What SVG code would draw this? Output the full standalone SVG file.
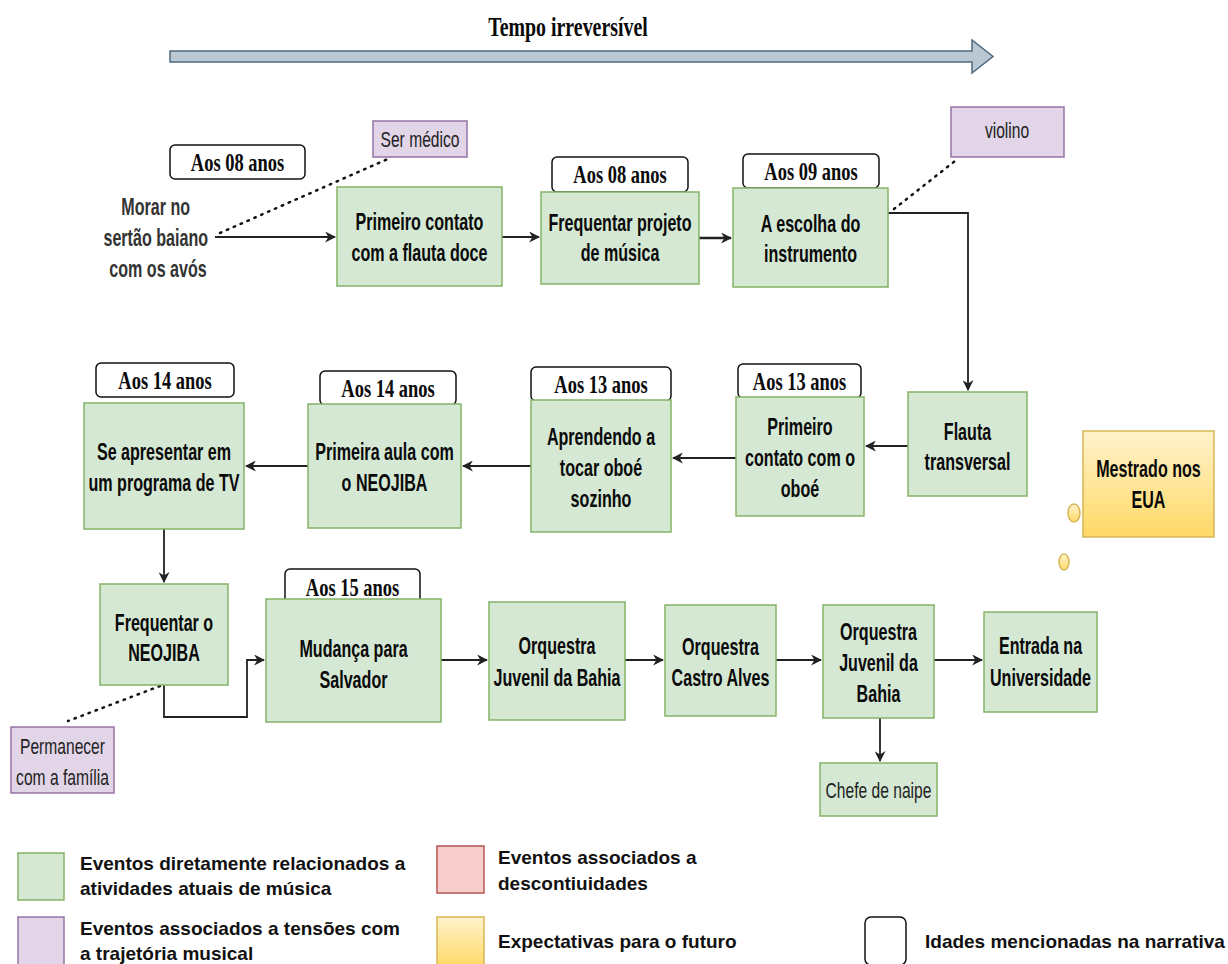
<svg xmlns="http://www.w3.org/2000/svg" width="1228" height="964" viewBox="0 0 1228 964">
  <style>
    .ev { fill: #d5e8d4; stroke: #82b366; stroke-width: 1.5; }
    .tn { fill: #e1d5e7; stroke: #9673a6; stroke-width: 1.5; }
    .ds { fill: #f8cecc; stroke: #b85450; stroke-width: 1.5; }
    .fu { fill: url(#futureGrad); stroke: #d6b656; stroke-width: 1.5; }
    .age { fill: #ffffff; stroke: #111111; stroke-width: 1.5; }
    .gt { font-family: "Liberation Sans", Arial, sans-serif; font-weight: bold; font-size: 23px; fill: #0a0a0a; text-anchor: middle; }
    .pt { font-family: "Liberation Sans", Arial, sans-serif; font-size: 22px; fill: #222222; text-anchor: middle; }
    .at { font-family: "Liberation Serif", "Times New Roman", serif; font-weight: bold; font-size: 26px; fill: #0a0a0a; text-anchor: middle; }
    .lt { font-family: "Liberation Sans", Arial, sans-serif; font-weight: bold; font-size: 19px; fill: #111111; }
    .edge { fill: none; stroke: #222222; stroke-width: 1.8; }
    .dots { fill: none; stroke: #111111; stroke-width: 2.5; stroke-dasharray: 1.5 6; stroke-linecap: round; }
  </style>
  <defs>
    <linearGradient id="futureGrad" x1="0" y1="0" x2="0" y2="1">
      <stop offset="0" stop-color="#fff2cc"/>
      <stop offset="1" stop-color="#ffd966"/>
    </linearGradient>
    <marker id="arrow" viewBox="0 0 10 10" refX="9" refY="5" markerWidth="11" markerHeight="11" markerUnits="userSpaceOnUse" orient="auto">
      <path d="M0,0 L10,5 L0,10 L3,5 z" fill="#222222"/>
    </marker>
  </defs>

  <rect width="1228" height="964" fill="#ffffff"/>

  <!-- time axis -->
  <g id="timeline">
    <polygon points="170,51 972,51 972,40 993,56.5 972,73 972,62 170,62" fill="#bac8d3" stroke="#4f6a80" stroke-width="1.5"/>
    <text class="at" transform="translate(568,0) scale(0.71,1)" x="0" y="36" style="font-size:28px">Tempo irreversível</text>
  </g>

  <!-- connectors -->
  <g id="connectors">
    <path class="edge" d="M215,237 H335" marker-end="url(#arrow)"/>
    <path class="dots" d="M220,233 L390,158"/>
    <path class="edge" d="M502,237 H539" marker-end="url(#arrow)"/>
    <path class="edge" d="M699,238 H731" stroke="#555555" style="stroke-width:2.5" marker-end="url(#arrow)"/>
    <path class="edge" d="M888,213 H968 V390" marker-end="url(#arrow)"/>
    <path class="dots" d="M894,209 L955,161"/>
    <path class="edge" d="M908,446 H866" marker-end="url(#arrow)"/>
    <path class="edge" d="M736,458 H673" marker-end="url(#arrow)"/>
    <path class="edge" d="M531,466 H463" marker-end="url(#arrow)"/>
    <path class="edge" d="M308,466 H246" marker-end="url(#arrow)"/>
    <path class="edge" d="M164,529 V582" marker-end="url(#arrow)"/>
    <path class="edge" d="M164,685 V717 H247 V660 H264" marker-end="url(#arrow)"/>
    <path class="dots" d="M160,686 L68,721"/>
    <path class="edge" d="M441,660 H487" marker-end="url(#arrow)"/>
    <path class="edge" d="M625,660 H663" marker-end="url(#arrow)"/>
    <path class="edge" d="M776,660 H821" marker-end="url(#arrow)"/>
    <path class="edge" d="M934,660 H982" marker-end="url(#arrow)"/>
    <path class="edge" d="M880,718 V761" marker-end="url(#arrow)"/>
  </g>

  <!-- starting situation -->
  <g id="morar">
    <text class="gt" transform="translate(158,0) scale(0.7,1)" style="fill:#333333">
      <tspan x="0" y="215">Morar no</tspan>
      <tspan x="0" y="246">sertão baiano</tspan>
      <tspan x="0" y="277">com os avós</tspan>
    </text>
  </g>

  <!-- age tags -->
  <g id="age1"><rect class="age" x="170" y="145" width="135" height="34" rx="5"/><text class="at" transform="translate(237.5,0) scale(0.71,1)" x="0" y="171">Aos 08 anos</text></g>
  <g id="age2"><rect class="age" x="552" y="157" width="136" height="35" rx="5"/><text class="at" transform="translate(620,0) scale(0.71,1)" x="0" y="183">Aos 08 anos</text></g>
  <g id="age3"><rect class="age" x="743" y="154" width="136" height="34" rx="5"/><text class="at" transform="translate(811,0) scale(0.71,1)" x="0" y="180">Aos 09 anos</text></g>
  <g id="age4"><rect class="age" x="738" y="364" width="123" height="34" rx="5"/><text class="at" transform="translate(799.5,0) scale(0.71,1)" x="0" y="390">Aos 13 anos</text></g>
  <g id="age5"><rect class="age" x="531" y="367" width="140" height="34" rx="5"/><text class="at" transform="translate(601,0) scale(0.71,1)" x="0" y="393">Aos 13 anos</text></g>
  <g id="age6"><rect class="age" x="320" y="371" width="136" height="34" rx="5"/><text class="at" transform="translate(388,0) scale(0.71,1)" x="0" y="397">Aos 14 anos</text></g>
  <g id="age7"><rect class="age" x="96" y="363" width="138" height="34" rx="5"/><text class="at" transform="translate(165,0) scale(0.71,1)" x="0" y="389">Aos 14 anos</text></g>
  <g id="age8"><rect class="age" x="285" y="569" width="135" height="36" rx="5"/><text class="at" transform="translate(352.5,0) scale(0.71,1)" x="0" y="596">Aos 15 anos</text></g>

  <!-- events -->
  <g id="flauta-doce"><rect class="ev" x="337" y="187" width="165" height="99"/>
    <text class="gt" transform="translate(419.5,0) scale(0.7,1)"><tspan x="0" y="230">Primeiro contato</tspan><tspan x="0" y="261">com a flauta doce</tspan></text></g>
  <g id="projeto-musica"><rect class="ev" x="541" y="192" width="158" height="92"/>
    <text class="gt" transform="translate(620,0) scale(0.7,1)"><tspan x="0" y="231">Frequentar projeto</tspan><tspan x="0" y="261">de música</tspan></text></g>
  <g id="escolha"><rect class="ev" x="733" y="188" width="155" height="99"/>
    <text class="gt" transform="translate(810.5,0) scale(0.7,1)"><tspan x="0" y="232">A escolha do</tspan><tspan x="0" y="262">instrumento</tspan></text></g>
  <g id="flauta-transversal"><rect class="ev" x="908" y="392" width="119" height="104"/>
    <text class="gt" transform="translate(967.5,0) scale(0.7,1)"><tspan x="0" y="440">Flauta</tspan><tspan x="0" y="470">transversal</tspan></text></g>
  <g id="contato-oboe"><rect class="ev" x="736" y="397" width="128" height="119"/>
    <text class="gt" transform="translate(800,0) scale(0.7,1)"><tspan x="0" y="435">Primeiro</tspan><tspan x="0" y="466">contato com o</tspan><tspan x="0" y="497">oboé</tspan></text></g>
  <g id="oboe-sozinho"><rect class="ev" x="531" y="400" width="140" height="132"/>
    <text class="gt" transform="translate(601,0) scale(0.7,1)"><tspan x="0" y="445">Aprendendo a</tspan><tspan x="0" y="476">tocar oboé</tspan><tspan x="0" y="507">sozinho</tspan></text></g>
  <g id="aula-neojiba"><rect class="ev" x="308" y="404" width="153" height="124"/>
    <text class="gt" transform="translate(384.5,0) scale(0.7,1)"><tspan x="0" y="460">Primeira aula com</tspan><tspan x="0" y="491">o NEOJIBA</tspan></text></g>
  <g id="programa-tv"><rect class="ev" x="84" y="403" width="160" height="126"/>
    <text class="gt" transform="translate(164,0) scale(0.7,1)"><tspan x="0" y="460">Se apresentar em</tspan><tspan x="0" y="491">um programa de TV</tspan></text></g>
  <g id="frequentar-neojiba"><rect class="ev" x="100" y="584" width="128" height="101"/>
    <text class="gt" transform="translate(164,0) scale(0.7,1)"><tspan x="0" y="631">Frequentar o</tspan><tspan x="0" y="661">NEOJIBA</tspan></text></g>
  <g id="salvador"><rect class="ev" x="266" y="599" width="175" height="123"/>
    <text class="gt" transform="translate(353.5,0) scale(0.7,1)"><tspan x="0" y="657">Mudança para</tspan><tspan x="0" y="688">Salvador</tspan></text></g>
  <g id="ojb1"><rect class="ev" x="489" y="602" width="136" height="118"/>
    <text class="gt" transform="translate(557,0) scale(0.7,1)"><tspan x="0" y="654">Orquestra</tspan><tspan x="0" y="686">Juvenil da Bahia</tspan></text></g>
  <g id="castro-alves"><rect class="ev" x="665" y="605" width="111" height="111"/>
    <text class="gt" transform="translate(720.5,0) scale(0.7,1)"><tspan x="0" y="655">Orquestra</tspan><tspan x="0" y="686">Castro Alves</tspan></text></g>
  <g id="ojb2"><rect class="ev" x="823" y="605" width="111" height="113"/>
    <text class="gt" transform="translate(878.5,0) scale(0.7,1)"><tspan x="0" y="640">Orquestra</tspan><tspan x="0" y="671">Juvenil da</tspan><tspan x="0" y="702">Bahia</tspan></text></g>
  <g id="universidade"><rect class="ev" x="984" y="612" width="113" height="100"/>
    <text class="gt" transform="translate(1040.5,0) scale(0.7,1)"><tspan x="0" y="654">Entrada na</tspan><tspan x="0" y="686">Universidade</tspan></text></g>
  <g id="chefe-naipe"><rect class="ev" x="820" y="763" width="117" height="53"/>
    <text class="pt" transform="translate(878.5,0) scale(0.71,1)" x="0" y="798">Chefe de naipe</text></g>

  <!-- tensions -->
  <g id="ser-medico"><rect class="tn" x="373" y="121" width="94" height="36"/>
    <text class="pt" transform="translate(420,0) scale(0.71,1)" x="0" y="147">Ser médico</text></g>
  <g id="violino"><rect class="tn" x="951" y="107" width="113" height="50"/>
    <text class="pt" transform="translate(1007,0) scale(0.71,1)" x="0" y="138">violino</text></g>
  <g id="permanecer"><rect class="tn" x="11" y="727" width="103" height="66"/>
    <text class="pt" transform="translate(62.5,0) scale(0.71,1)"><tspan x="0" y="754">Permanecer</tspan><tspan x="0" y="785">com a família</tspan></text></g>

  <!-- future expectation -->
  <g id="mestrado">
    <rect class="fu" x="1083" y="431" width="131" height="106"/>
    <text class="gt" transform="translate(1148.5,0) scale(0.7,1)"><tspan x="0" y="477">Mestrado nos</tspan><tspan x="0" y="508">EUA</tspan></text>
    <ellipse cx="1074" cy="513" rx="6" ry="9" class="fu"/>
    <ellipse cx="1064" cy="562" rx="5" ry="8" class="fu"/>
  </g>

  <!-- legend -->
  <g id="legend">
    <rect class="ev" x="18" y="853" width="46" height="47"/>
    <text class="lt"><tspan x="80" y="870">Eventos diretamente relacionados a</tspan><tspan x="80" y="895">atividades atuais de música</tspan></text>
    <rect class="ds" x="437" y="846" width="47" height="47"/>
    <text class="lt"><tspan x="498" y="864">Eventos associados a</tspan><tspan x="498" y="890">descontiuidades</tspan></text>
    <rect class="tn" x="18" y="917" width="46" height="50"/>
    <text class="lt"><tspan x="80" y="935">Eventos associados a tensões com</tspan><tspan x="80" y="960">a trajetória musical</tspan></text>
    <rect class="fu" x="437" y="917" width="47" height="50"/>
    <text class="lt" x="498" y="948">Expectativas para o futuro</text>
    <rect class="age" x="865" y="917" width="41" height="48" rx="6"/>
    <text class="lt" x="925" y="948">Idades mencionadas na narrativa</text>
  </g>
</svg>
